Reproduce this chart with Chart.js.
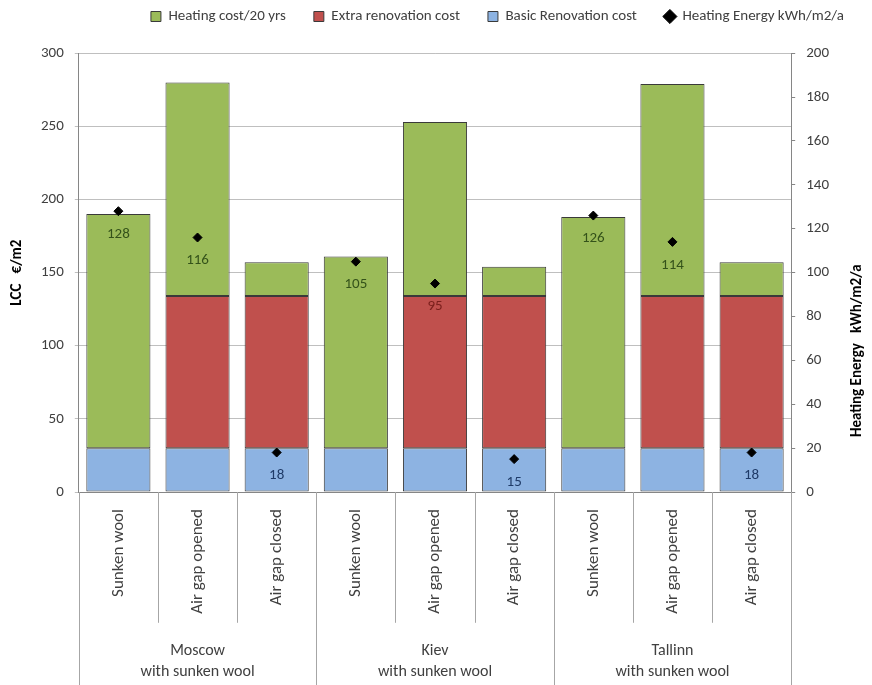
<!DOCTYPE html>
<html>
<head>
<meta charset="utf-8">
<script src="https://cdn.jsdelivr.net/npm/chart.js@4.4.1/dist/chart.umd.min.js"></script>
<style>
  html, body { margin: 0; padding: 0; background: #fff; }
  #wrap { width: 872px; height: 685px; position: relative; }
</style>
</head>
<body>
<div id="wrap"><canvas id="lccChart"></canvas></div>
<script>
  // categories
  const variants = ['Sunken wool', 'Air gap opened', 'Air gap closed',
                    'Sunken wool', 'Air gap opened', 'Air gap closed',
                    'Sunken wool', 'Air gap opened', 'Air gap closed'];
  const cities = [['Moscow', 'with sunken wool'], ['Kiev', 'with sunken wool'], ['Tallinn', 'with sunken wool']];

  // series, €/m2
  const basicCost   = [30, 30, 30, 30, 30, 30, 30, 30, 30];
  const extraCost   = [0, 104, 104, 0, 104, 104, 0, 104, 104];
  const heatingCost = [160, 146, 23, 131, 119, 20, 158, 145, 23];
  // series, kWh/m2/a
  const heatingEnergy = [128, 116, 18, 105, 95, 15, 126, 114, 18];

  const legendOrder = ['Heating cost/20 yrs', 'Extra renovation cost', 'Basic Renovation cost', 'Heating Energy kWh/m2/a'];
  const rightTitle = 'Heating Energy   kWh/m2/a';
  const labelColors = ['#1f3b68', '#7a1f1c', '#34521a'];

  const FONT = "Carlito, Lato, 'Open Sans', sans-serif";
  Chart.defaults.font.family = FONT;
  Chart.defaults.color = '#404040';

  const energyLabels = {
    id: 'energyLabels',
    afterDatasetsDraw(chart) {
      const meta = chart.getDatasetMeta(3);
      const ctx = chart.ctx;
      ctx.save();
      ctx.font = '15px ' + FONT;
      ctx.textAlign = 'center';
      ctx.textBaseline = 'middle';
      meta.data.forEach((pt, i) => {
        const ty = pt.y + 23;
        let color = '#222';
        [0, 1, 2].forEach(d => {
          const bar = chart.getDatasetMeta(d).data[i];
          if (ty >= bar.y && ty <= bar.base) color = labelColors[d];
        });
        ctx.fillStyle = color;
        ctx.fillText(heatingEnergy[i], pt.x, ty);
      });
      ctx.restore();
    }
  };

  // separator lines of the two-level category axis + right axis title (reads bottom-up)
  const separators = {
    id: 'separators',
    afterDraw(chart) {
      const xs = chart.scales.x;
      const n = variants.length;
      const perGroup = n / cities.length;
      const w = (xs.right - xs.left) / n;
      const ctx = chart.ctx;
      ctx.save();
      ctx.strokeStyle = '#a6a6a6';
      ctx.lineWidth = 1;
      for (let k = 0; k <= n; k++) {
        const x = Math.round(xs.left + k * w) + 0.5;
        const y2 = k % perGroup === 0 ? chart.height : xs.bottom;
        ctx.beginPath();
        ctx.moveTo(x, xs.top);
        ctx.lineTo(x, y2);
        ctx.stroke();
      }
      const y1 = chart.scales.y1;
      ctx.translate(chart.width - 15, y1.bottom - 55);
      ctx.rotate(-Math.PI / 2);
      ctx.font = 'bold 15px ' + FONT;
      ctx.fillStyle = '#000';
      ctx.textAlign = 'left';
      ctx.textBaseline = 'middle';
      ctx.fillText(rightTitle, 0, 0);
      ctx.restore();
    }
  };

  const barCommon = {
    type: 'bar',
    borderColor: '#3a3a3a',
    borderWidth: 1,
    borderSkipped: false,
    barPercentage: 0.81,
    categoryPercentage: 1,
    pointStyle: 'rect',
    yAxisID: 'y'
  };

  new Chart(document.getElementById('lccChart'), {
    data: {
      labels: variants,
      datasets: [
        Object.assign({}, barCommon, { label: 'Basic Renovation cost', data: basicCost, backgroundColor: '#8db3e2', order: 2 }),
        Object.assign({}, barCommon, { label: 'Extra renovation cost', data: extraCost, backgroundColor: '#c0504d', order: 2 }),
        Object.assign({}, barCommon, { label: 'Heating cost/20 yrs', data: heatingCost, backgroundColor: '#9bbb59', order: 2 }),
        {
          type: 'line',
          label: 'Heating Energy kWh/m2/a',
          data: heatingEnergy,
          showLine: false,
          pointStyle: 'rectRot',
          pointRadius: 4.5,
          pointBackgroundColor: '#000',
          pointBorderColor: '#000',
          backgroundColor: '#000',
          borderColor: '#000',
          yAxisID: 'y1',
          order: 1
        }
      ]
    },
    options: {
      responsive: true,
      maintainAspectRatio: false,
      animation: false,
      layout: { padding: { top: -19, right: 0, left: 4, bottom: -7 } },
      plugins: {
        // empty spacer between legend and plot
        title: { display: true, text: ' ', weight: 500, font: { size: 1 }, padding: { top: 9, bottom: 9 } },
        legend: {
          position: 'top',
          align: 'end',
          labels: {
            usePointStyle: true,
            boxWidth: 10,
            boxHeight: 10,
            padding: 28,
            font: { size: 15 },
            sort: (a, b) => legendOrder.indexOf(a.text) - legendOrder.indexOf(b.text)
          }
        },
        tooltip: { enabled: false }
      },
      scales: {
        x: {
          type: 'category',
          stacked: true,
          offset: true,
          grid: { display: false },
          border: { display: true, color: '#868686' },
          ticks: { autoSkip: false, minRotation: 90, maxRotation: 90, padding: 9, font: { size: 17 } }
        },
        x2: {
          type: 'category',
          position: 'bottom',
          labels: cities,
          offset: true,
          grid: { display: false },
          border: { display: false },
          ticks: { padding: 9, font: { size: 16, lineHeight: 1.35 } }
        },
        y: {
          stacked: true,
          position: 'left',
          min: 0,
          max: 300,
          ticks: { stepSize: 50, padding: 11, font: { size: 15 } },
          grid: { color: '#bfbfbf', tickLength: 4 },
          border: { color: '#868686' },
          title: { display: true, text: 'LCC   €/m2', font: { size: 15, weight: 'bold' }, color: '#000' }
        },
        y1: {
          position: 'right',
          min: 0,
          max: 200,
          ticks: { stepSize: 20, padding: 11, font: { size: 15 } },
          grid: { drawOnChartArea: false, color: '#868686', tickLength: 4 },
          border: { color: '#868686' },
          // invisible: only reserves room, the title is drawn bottom-up by the plugin
          title: { display: true, text: rightTitle, color: 'rgba(0,0,0,0)', font: { size: 15, weight: 'bold' }, padding: { top: 7, bottom: 7 } }
        }
      }
    },
    plugins: [energyLabels, separators]
  });
</script>
</body>
</html>
